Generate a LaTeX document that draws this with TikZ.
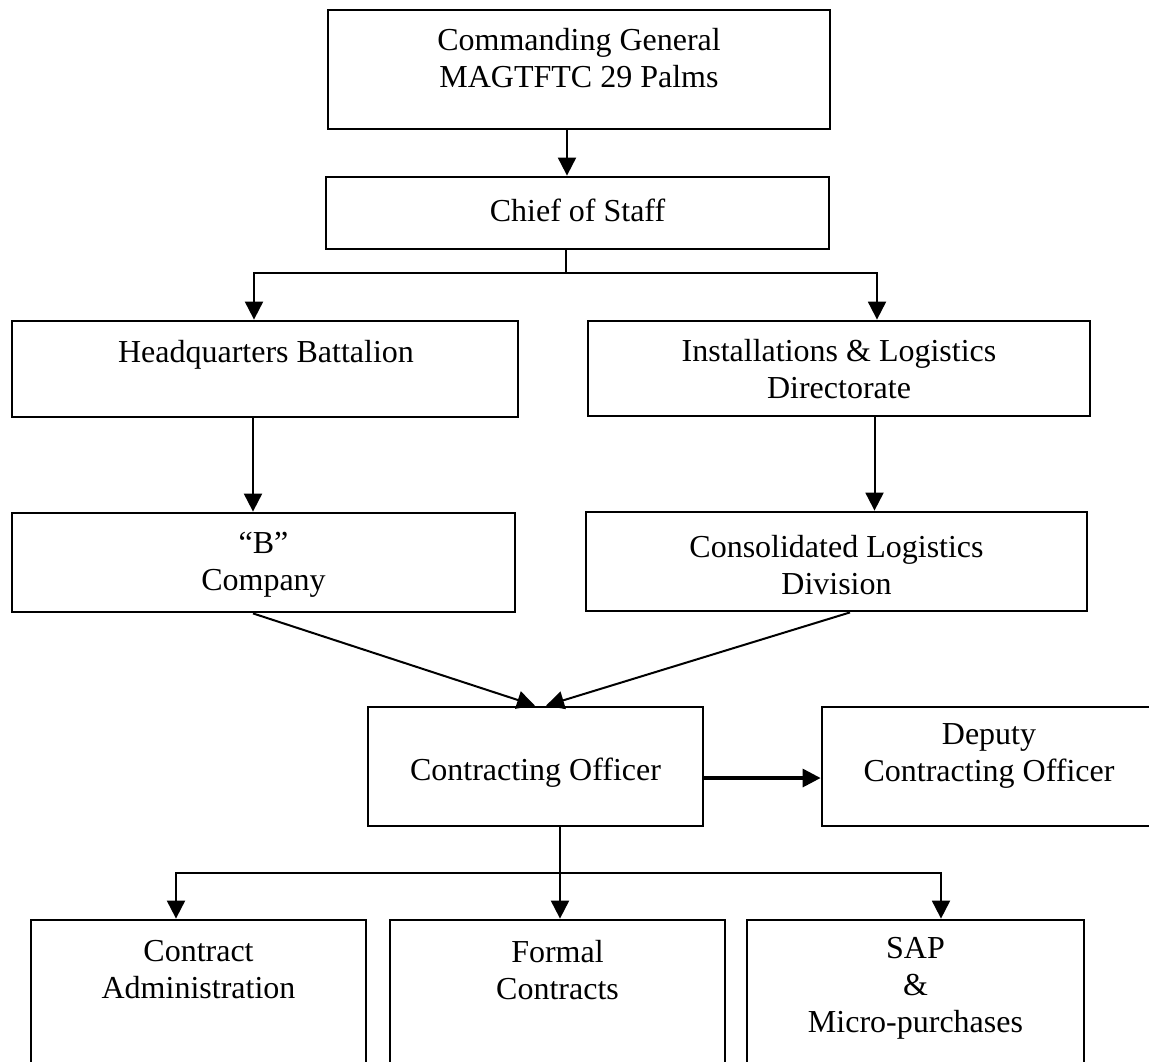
\documentclass[tikz,border=0pt]{standalone}
\usepackage{fontspec}
\setmainfont{Liberation Serif}
\usetikzlibrary{arrows.meta}
\tikzset{
	box/.style={draw, line width=1.4pt, inner sep=0pt},
	lbl/.style={align=center, font=\fontsize{16}{18.5}\selectfont, inner sep=0pt},
	link/.style={line width=1pt},
	arr/.style={link, -{Triangle[length=9pt, width=9pt]}}
}

\begin{document}
\begin{tikzpicture}[x=0.5pt, y=-0.5pt]
			%%%%% START %%%%%
			\useasboundingbox (0,0) rectangle (1149,1061);
			\clip (0,0) rectangle (1149,1061);
			
			\node[box, minimum width=251pt, minimum height=59.5pt] (cg) at (579,69.5) {};
			\node[lbl] (cg-t) at (579,58.5) {Commanding General\\MAGTFTC 29 Palms};
			
			\node[box, minimum width=251.5pt, minimum height=36pt] (cos) at (577.5,213) {};
			\node[lbl] (cos-t) at (577.5,210) {Chief of Staff};
			
			\node[box, minimum width=253pt, minimum height=48pt] (hq) at (265,369) {};
			\node[lbl] (hq-t) at (266,355) {Headquarters Battalion};
			
			\node[box, minimum width=251pt, minimum height=47.5pt] (il) at (839,368.5) {};
			\node[lbl] (il-t) at (839,369.5) {Installations \& Logistics\\Directorate};
			
			\node[box, minimum width=251.5pt, minimum height=49.5pt] (bco) at (263.5,562.5) {};
			\node[lbl] (bco-t) at (263.5,565) {“B”\\Company};
			
			\node[box, minimum width=250.5pt, minimum height=49.5pt] (cld) at (836.5,561.5) {};
			\node[lbl] (cld-t) at (836.5,565) {Consolidated Logistics\\Division};
			
			\node[box, minimum width=167.5pt, minimum height=59.5pt] (co) at (535.5,766.5) {};
			\node[lbl] (co-t) at (535.5,773) {Contracting Officer};
			
			\node[box, minimum width=168pt, minimum height=59.5pt] (dep) at (990,766.5) {};
			\node[lbl] (dep-t) at (989,756) {Deputy\\Contracting Officer};
			
			\node[box, minimum width=167.5pt, minimum height=90pt] (ca) at (198.5,1010) {};
			\node[lbl] (ca-t) at (198.5,970) {Contract\\Administration};
			
			\node[box, minimum width=167.5pt, minimum height=90pt] (fc) at (557.5,1010) {};
			\node[lbl] (fc-t) at (557.5,970) {Formal\\Contracts};
			
			\node[box, minimum width=168.5pt, minimum height=90pt] (sap) at (915.5,1010) {};
			\node[lbl] (sap-t) at (915.5,988) {SAP\\\&\\Micro-purchases};
			
			%%%%% LINKS %%%%%
			
			\draw[arr] ([xshift=-6pt]cg.south) -- ([xshift=-5.25pt]cos.north);
			
			\coordinate (j1) at (566,273);
			\draw[link] ([xshift=-5.75pt]cos.south) -- (j1);
			\draw[arr] (j1) -| ([xshift=-5.5pt]hq.north);
			\draw[arr] (j1) -| ([xshift=19pt]il.north);
			
			\draw[arr] ([xshift=-6pt]hq.south) -- ([xshift=-5.25pt]bco.north);
			\draw[arr] ([xshift=17.75pt]il.south) -- ([xshift=19pt]cld.north);
			
			\draw[arr] ([xshift=-5.25pt]bco.south) -- ([xshift=-0.25pt]co.north);
			\draw[arr] ([xshift=6.75pt]cld.south) -- ([xshift=5.25pt]co.north);
			
			\draw[arr, line width=1.6pt] ([yshift=-5.75pt]co.east) -- ([yshift=-5.75pt]dep.west);
			
			\coordinate (j2) at (560,873);
			\draw[link] ([xshift=12.25pt]co.south) -- (j2);
			\draw[arr] (j2) -| ([xshift=-11.25pt]ca.north);
			\draw[arr] (j2) -- ([xshift=1.25pt]fc.north);
			\draw[arr] (j2) -| ([xshift=12.75pt]sap.north);
			
			%%%%% END %%%%%
\end{tikzpicture}
\end{document}
